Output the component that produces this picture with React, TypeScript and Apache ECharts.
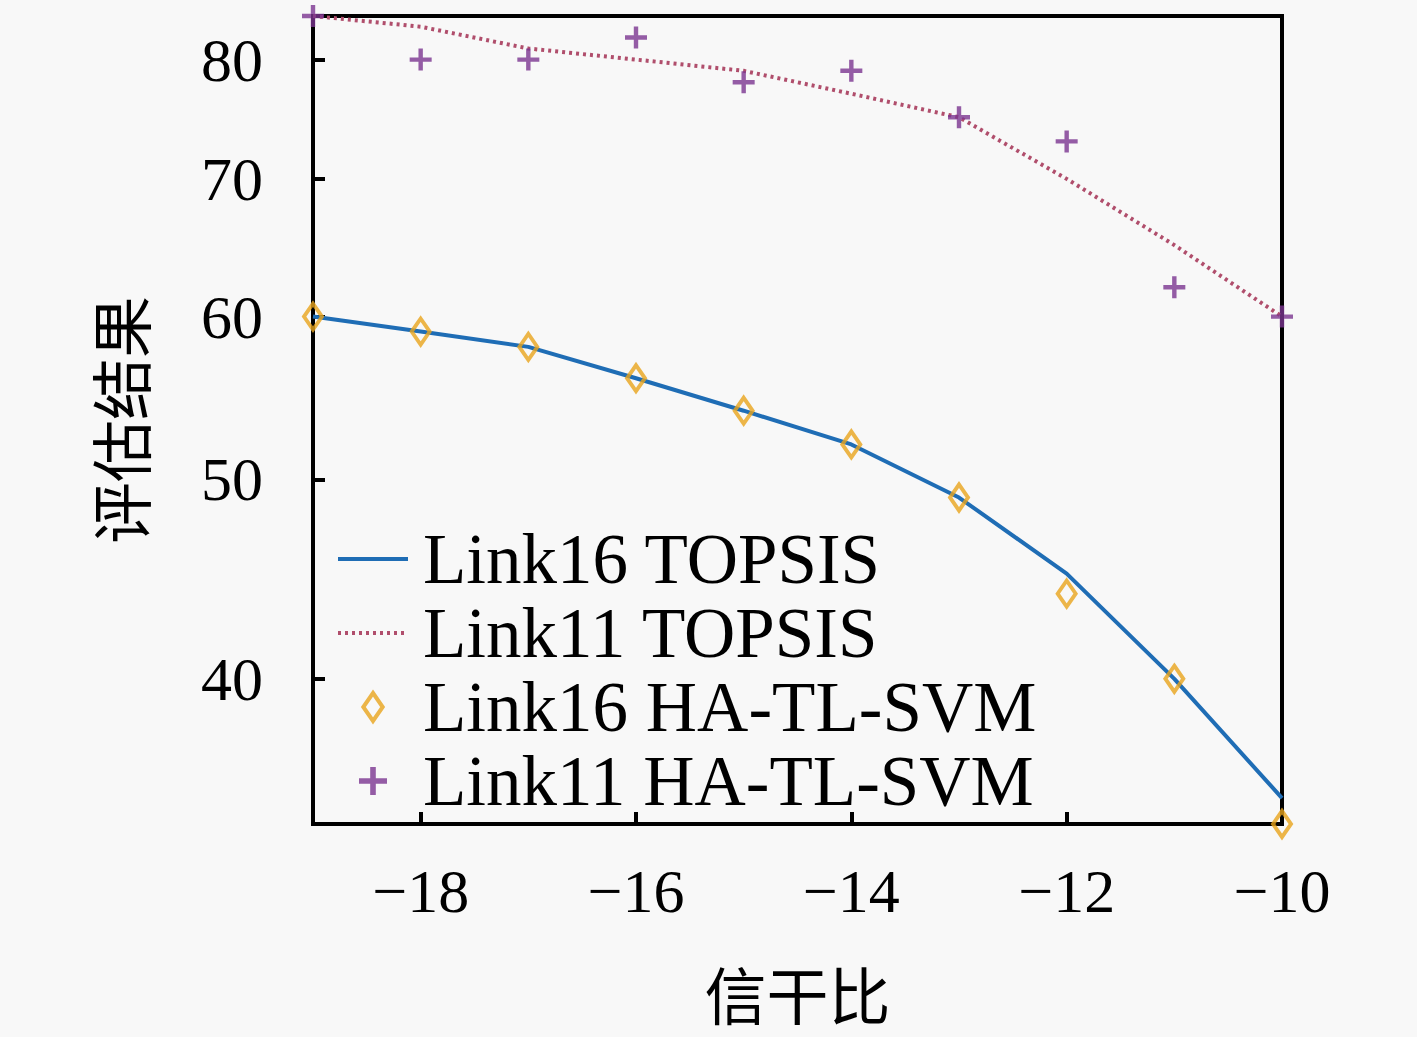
import React, { useEffect, useRef } from "react";
import * as echarts from "echarts";

const snr = [-19, -18, -17, -16, -15, -14, -13, -12, -11, -10];
const link16Topsis = [60, 59, 58, 56, 54, 52, 49, 45, 40, 35];
const link11Topsis = [84, 83, 81, 80, 79, 77, 75, 70, 65, 60];
const link16Svm = [60, 59, 58, 56, 54, 52, 49, 44, 40, 34];
const link11Svm = [84, 80, 80, 82, 78, 79, 75, 73, 62, 60];
const xTicks = [-18, -16, -14, -12, -10];
const yTicks = [40, 50, 60, 70, 80];
const seriesNames = ["Link16 TOPSIS", "Link11 TOPSIS", "Link16 HA-TL-SVM", "Link11 HA-TL-SVM"];
const xName = "信干比";
const yName = "评估结果";

const pairs = (ys: number[]) => snr.map((x, i) => [x, ys[i]]);

const SERIF = "'Liberation Serif', 'Times New Roman', serif";
const CJK = "'Noto Sans CJK SC', sans-serif";
const PLUS = "path://M4,0 H6 V4 H10 V6 H6 V10 H4 V6 H0 V4 H4 Z";
const DIAMOND = "path://M9,0 L18,13 L9,26 L0,13 Z";

const BLUE = "#1f6db5";
const ROSE = "#b04e6c";
const GOLD = "#e8a41c";
const PURPLE = "#7b3590";

export default function App() {
  const ref = useRef<HTMLDivElement>(null);
  useEffect(() => {
    if (!ref.current) return;
    const chart = echarts.init(ref.current, undefined, { renderer: "svg" });
    const tickStyle = { show: true, inside: true, length: 12, lineStyle: { color: "#000", width: 4 } };
    chart.setOption({
      animation: false,
      backgroundColor: "#f8f8f8",
      grid: {
        left: 313,
        right: 135,
        top: 16,
        bottom: 213,
        show: true,
        borderColor: "#000",
        borderWidth: 4,
        containLabel: false,
      },
      xAxis: {
        type: "value",
        min: -19,
        max: -10,
        name: xName,
        nameLocation: "middle",
        nameGap: 138,
        nameTextStyle: { fontFamily: CJK, fontSize: 62, color: "#000" },
        axisLine: { show: true, lineStyle: { color: "#000", width: 4 } },
        axisTick: { ...tickStyle, customValues: xTicks },
        axisLabel: {
          customValues: xTicks,
          margin: 36,
          fontFamily: SERIF,
          fontSize: 62,
          color: "#000",
          formatter: (v: number) => String(v).replace("-", "\u2212"),
        },
        splitLine: { show: false },
      },
      yAxis: {
        type: "log",
        logBase: 10,
        min: 34,
        max: 84,
        name: yName,
        nameLocation: "middle",
        nameGap: 163,
        nameRotate: 90,
        nameTextStyle: { fontFamily: CJK, fontSize: 62, color: "#000" },
        axisLine: { show: true, lineStyle: { color: "#000", width: 4 } },
        axisTick: { ...tickStyle, customValues: yTicks },
        axisLabel: {
          customValues: yTicks,
          margin: 50,
          fontFamily: SERIF,
          fontSize: 62,
          color: "#000",
        },
        splitLine: { show: false },
        minorTick: { show: false },
      },
      legend: {
        orient: "vertical",
        left: 336,
        top: 522,
        padding: 0,
        itemGap: 0,
        itemWidth: 70,
        itemHeight: 28,
        textStyle: { fontFamily: SERIF, fontSize: 71, color: "#000", lineHeight: 74, padding: [0, 0, 0, 10] },
        data: [
          { name: seriesNames[0], itemStyle: { opacity: 0 }, lineStyle: { width: 4, color: BLUE } },
          { name: seriesNames[1], itemStyle: { opacity: 0 }, lineStyle: { width: 4, color: ROSE, type: [3, 4] } },
          { name: seriesNames[2], icon: DIAMOND, itemStyle: { color: "rgba(0,0,0,0)", borderColor: GOLD, borderWidth: 4 } },
          { name: seriesNames[3] },
        ],
      },
      series: [
        {
          name: seriesNames[0],
          type: "line",
          data: pairs(link16Topsis),
          symbol: "none",
          lineStyle: { color: BLUE, width: 4 },
          itemStyle: { color: BLUE },
          z: 2,
        },
        {
          name: seriesNames[1],
          type: "line",
          data: pairs(link11Topsis),
          symbol: "none",
          lineStyle: { color: ROSE, width: 4, type: [3, 4] },
          itemStyle: { color: ROSE },
          z: 2,
        },
        {
          name: seriesNames[2],
          type: "scatter",
          data: pairs(link16Svm),
          symbol: "diamond",
          symbolSize: [18, 26],
          clip: false,
          itemStyle: { color: "rgba(0,0,0,0)", borderColor: GOLD, borderWidth: 4 },
          z: 3,
        },
        {
          name: seriesNames[3],
          type: "scatter",
          data: pairs(link11Svm),
          symbol: PLUS,
          symbolSize: 22,
          clip: false,
          itemStyle: { color: PURPLE },
          z: 3,
        },
      ],
    });
    return () => chart.dispose();
  }, []);
  return (
    <div
      ref={ref}
      style={{ position: "fixed", left: 0, top: 0, width: 1417, height: 1037 }}
    />
  );
}
